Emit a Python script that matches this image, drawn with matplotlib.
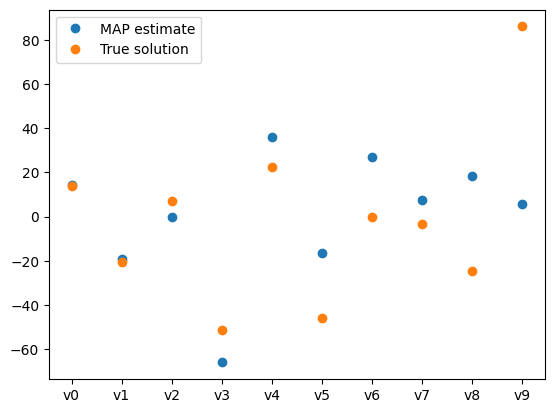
import matplotlib
matplotlib.use("Agg")
import matplotlib.pyplot as plt

labels = ["v0", "v1", "v2", "v3", "v4", "v5", "v6", "v7", "v8", "v9"]
map_est = [14.5, -19.0, 0.0, -66.0, 36.0, -16.5, 27.0, 7.5, 18.5, 5.5]
true_sol = [14.0, -20.5, 7.0, -51.5, 22.5, -46.0, 0.0, -3.5, -24.5, 86.0]

fig, ax = plt.subplots(figsize=(6.4, 4.8), dpi=100)
ax.plot(labels, map_est, "o", label="MAP estimate")
ax.plot(labels, true_sol, "o", label="True solution")
ax.legend(loc="upper left")
fig.savefig("out.png", bbox_inches="tight")
